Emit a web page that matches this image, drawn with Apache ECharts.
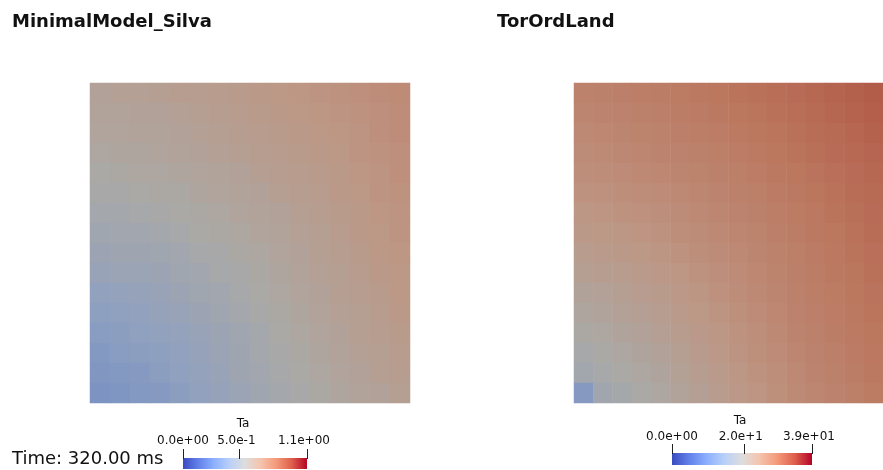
<!DOCTYPE html>
<html>
<head>
<meta charset="utf-8">
<script src="https://cdn.jsdelivr.net/npm/echarts@6/dist/echarts.min.js"></script>
<style>
  html, body { margin: 0; padding: 0; background: #ffffff; }
  #chart { width: 883px; height: 470px; }
</style>
</head>
<body>
<div id="chart"></div>
<script>
// Ta field sampled on a 16 x 16 grid, rows listed top to bottom, columns left to right.
const SILVA_TA = [
  [0.61, 0.62, 0.62, 0.63, 0.64, 0.64, 0.65, 0.66, 0.67, 0.68, 0.69, 0.70, 0.71, 0.72, 0.73, 0.74],
  [0.60, 0.60, 0.61, 0.61, 0.62, 0.63, 0.64, 0.65, 0.66, 0.67, 0.68, 0.69, 0.70, 0.71, 0.72, 0.73],
  [0.59, 0.59, 0.60, 0.60, 0.61, 0.62, 0.63, 0.64, 0.65, 0.66, 0.67, 0.68, 0.69, 0.70, 0.72, 0.73],
  [0.57, 0.58, 0.58, 0.59, 0.60, 0.61, 0.62, 0.63, 0.64, 0.65, 0.66, 0.67, 0.68, 0.70, 0.71, 0.72],
  [0.55, 0.56, 0.57, 0.57, 0.58, 0.59, 0.60, 0.61, 0.63, 0.64, 0.65, 0.66, 0.67, 0.69, 0.70, 0.72],
  [0.54, 0.54, 0.55, 0.56, 0.56, 0.58, 0.59, 0.60, 0.61, 0.63, 0.64, 0.65, 0.67, 0.68, 0.70, 0.71],
  [0.52, 0.52, 0.53, 0.54, 0.55, 0.56, 0.57, 0.59, 0.60, 0.61, 0.63, 0.64, 0.66, 0.67, 0.69, 0.70],
  [0.50, 0.51, 0.51, 0.52, 0.53, 0.55, 0.56, 0.57, 0.59, 0.60, 0.62, 0.63, 0.65, 0.67, 0.68, 0.70],
  [0.48, 0.49, 0.49, 0.50, 0.51, 0.53, 0.54, 0.56, 0.57, 0.59, 0.61, 0.63, 0.64, 0.66, 0.68, 0.69],
  [0.46, 0.47, 0.47, 0.48, 0.50, 0.51, 0.53, 0.54, 0.56, 0.58, 0.60, 0.62, 0.63, 0.65, 0.67, 0.68],
  [0.43, 0.44, 0.45, 0.46, 0.48, 0.50, 0.51, 0.53, 0.55, 0.57, 0.59, 0.61, 0.63, 0.64, 0.66, 0.68],
  [0.41, 0.42, 0.43, 0.45, 0.46, 0.48, 0.50, 0.52, 0.54, 0.56, 0.58, 0.60, 0.62, 0.63, 0.65, 0.67],
  [0.39, 0.40, 0.42, 0.43, 0.44, 0.46, 0.48, 0.50, 0.52, 0.55, 0.57, 0.59, 0.61, 0.63, 0.64, 0.66],
  [0.37, 0.39, 0.40, 0.41, 0.43, 0.45, 0.47, 0.49, 0.52, 0.54, 0.56, 0.58, 0.60, 0.62, 0.63, 0.65],
  [0.36, 0.37, 0.38, 0.40, 0.42, 0.44, 0.46, 0.49, 0.51, 0.53, 0.55, 0.57, 0.59, 0.61, 0.63, 0.64],
  [0.34, 0.35, 0.37, 0.38, 0.40, 0.43, 0.45, 0.47, 0.50, 0.52, 0.54, 0.56, 0.58, 0.60, 0.61, 0.63]
];

const TORORD_TA = [
  [27.6, 27.8, 28.0, 28.2, 28.4, 28.7, 29.0, 29.3, 29.6, 29.9, 30.2, 30.5, 30.9, 31.3, 31.7, 32.1],
  [27.1, 27.3, 27.5, 27.8, 28.0, 28.3, 28.6, 28.9, 29.2, 29.5, 29.9, 30.2, 30.6, 31.0, 31.4, 31.8],
  [26.6, 26.8, 27.1, 27.4, 27.6, 27.9, 28.2, 28.5, 28.8, 29.2, 29.5, 29.9, 30.3, 30.7, 31.1, 31.5],
  [26.1, 26.4, 26.7, 27.0, 27.2, 27.5, 27.8, 28.1, 28.5, 28.8, 29.2, 29.6, 30.0, 30.4, 30.8, 31.2],
  [25.6, 25.9, 26.2, 26.5, 26.8, 27.1, 27.4, 27.7, 28.1, 28.5, 28.9, 29.3, 29.7, 30.1, 30.5, 30.9],
  [25.0, 25.3, 25.6, 25.9, 26.2, 26.6, 26.9, 27.3, 27.7, 28.1, 28.6, 29.0, 29.4, 29.8, 30.3, 30.7],
  [24.4, 24.7, 25.0, 25.3, 25.7, 26.1, 26.5, 26.9, 27.3, 27.8, 28.2, 28.7, 29.1, 29.6, 30.0, 30.5],
  [23.8, 24.1, 24.4, 24.7, 25.1, 25.6, 26.0, 26.5, 26.9, 27.4, 27.9, 28.4, 28.9, 29.3, 29.8, 30.3],
  [23.1, 23.5, 23.8, 24.1, 24.6, 25.1, 25.6, 26.1, 26.6, 27.1, 27.6, 28.1, 28.6, 29.1, 29.6, 30.1],
  [22.3, 22.7, 23.1, 23.5, 24.0, 24.5, 25.1, 25.7, 26.2, 26.8, 27.4, 27.9, 28.4, 28.9, 29.4, 29.9],
  [21.4, 21.9, 22.4, 22.9, 23.4, 24.0, 24.6, 25.3, 25.9, 26.5, 27.1, 27.7, 28.2, 28.7, 29.2, 29.7],
  [20.6, 21.1, 21.7, 22.2, 22.8, 23.5, 24.2, 24.9, 25.5, 26.2, 26.8, 27.5, 28.0, 28.5, 29.0, 29.5],
  [19.8, 20.4, 21.0, 21.6, 22.2, 23.0, 23.7, 24.4, 25.1, 25.8, 26.5, 27.2, 27.8, 28.3, 28.8, 29.3],
  [18.9, 19.6, 20.2, 20.9, 21.6, 22.4, 23.2, 24.0, 24.8, 25.5, 26.2, 26.9, 27.5, 28.0, 28.6, 29.1],
  [18.1, 18.8, 19.5, 20.2, 20.9, 21.8, 22.7, 23.6, 24.4, 25.1, 25.8, 26.6, 27.2, 27.8, 28.3, 28.9],
  [13.5, 18.0, 18.7, 19.5, 20.3, 21.3, 22.2, 23.1, 24.0, 24.7, 25.5, 26.3, 26.9, 27.5, 28.1, 28.7]
];

const PANEL_TITLES = ['MinimalModel_Silva', 'TorOrdLand'];
const TIME_LABEL = 'Time: 320.00 ms';
const BAR_TITLE = 'Ta';

const SILVA_RANGE = [0, 1.1];
const TORORD_RANGE = [0, 39];
const SILVA_TICK_VALUES = [0, 0.5, 1.1];
const SILVA_TICK_LABELS = ['0.0e+00', '5.0e-1', '1.1e+00'];
const TORORD_TICK_VALUES = [0, 20, 39];
const TORORD_TICK_LABELS = ['0.0e+00', '2.0e+1', '3.9e+01'];

// Cool-to-warm diverging map for the colour bars, and the same map under the
// scene's lighting for the shaded surfaces.
const COOL_WARM = ['#3b4cc0', '#6282ea', '#8db0fe', '#b8d0f9', '#dddddd', '#f5c4ad', '#f49a7b', '#de604d', '#b40426'];
const COOL_WARM_LIT = ['#2d3b94', '#4b64b4', '#6d88c4', '#8ea0c0', '#aaa9a6', '#bd9785', '#bc775f', '#ab4a3b', '#8b031d'];

const FONT = '"DejaVu Sans", sans-serif';

function toCells(rows) {
  const out = [];
  rows.forEach((row, r) => row.forEach((v, c) => out.push([c, r, v])));
  return out;
}
function indexLabels(n) {
  return Array.from({ length: n }, (_, i) => String(i));
}

const panels = [
  { rows: SILVA_TA, range: SILVA_RANGE, left: 90, top: 83, size: 320 },
  { rows: TORORD_TA, range: TORORD_RANGE, left: 574, top: 83, size: 320 }
];

const bars = [
  { range: SILVA_RANGE, ticks: SILVA_TICK_VALUES, labels: SILVA_TICK_LABELS,
    left: 183, top: 458, length: 124, thick: 11, tickTop: 449, labelY: 441, titleY: 424 },
  { range: TORORD_RANGE, ticks: TORORD_TICK_VALUES, labels: TORORD_TICK_LABELS,
    left: 672, top: 453, length: 140, thick: 12, tickTop: 444, labelY: 437, titleY: 421 }
];

const chart = echarts.init(document.getElementById('chart'), null, { renderer: 'canvas' });

const grids = panels.map(p => ({ left: p.left, top: p.top, width: p.size, height: p.size, containLabel: false }));
const xAxes = panels.map((p, i) => ({
  type: 'category', gridIndex: i, data: indexLabels(p.rows[0].length), show: false
}));
const yAxes = panels.map((p, i) => ({
  type: 'category', gridIndex: i, data: indexLabels(p.rows.length), inverse: true, show: false
}));
const series = panels.map((p, i) => ({
  type: 'heatmap', xAxisIndex: i, yAxisIndex: i, data: toCells(p.rows),
  emphasis: { disabled: true }, silent: true, progressive: 0
}));
const visualMaps = panels.map((p, i) => ({
  type: 'continuous', show: false, seriesIndex: i, min: p.range[0], max: p.range[1],
  inRange: { color: COOL_WARM_LIT }
}));

// Colour bars with their tick marks and labels.
const graphics = [];
bars.forEach(b => {
  graphics.push({
    type: 'rect', silent: true,
    shape: { x: b.left, y: b.top, width: b.length, height: b.thick },
    style: {
      fill: new echarts.graphic.LinearGradient(0, 0, 1, 0,
        COOL_WARM.map((c, k) => ({ offset: k / (COOL_WARM.length - 1), color: c })))
    }
  });
  const span = b.range[1] - b.range[0];
  const xs = b.ticks.map(v => b.left + (v - b.range[0]) / span * b.length);
  xs.forEach((x, k) => {
    const px = Math.round(x) + 0.5;
    graphics.push({
      type: 'line', silent: true,
      shape: { x1: px, y1: b.tickTop, x2: px, y2: b.top + 1 },
      style: { stroke: '#222', lineWidth: 1 }
    });
    graphics.push({
      type: 'text', silent: true, x: k === 0 ? x : x - 3, y: b.labelY,
      style: { text: b.labels[k], font: '12px ' + FONT, fill: '#111', align: 'center', verticalAlign: 'middle' }
    });
  });
  graphics.push({
    type: 'text', silent: true, x: (xs[0] + xs[xs.length - 1]) / 2 - 2, y: b.titleY,
    style: { text: BAR_TITLE, font: '12px ' + FONT, fill: '#111', align: 'center', verticalAlign: 'middle' }
  });
});

chart.setOption({
  animation: false,
  backgroundColor: '#ffffff',
  title: [
    { text: PANEL_TITLES[0], left: 12, top: 13, padding: 0,
      textStyle: { fontFamily: FONT, fontSize: 18, fontWeight: 'bold', color: '#111' } },
    { text: PANEL_TITLES[1], left: 497, top: 13, padding: 0,
      textStyle: { fontFamily: FONT, fontSize: 18, fontWeight: 'bold', color: '#111' } },
    { text: TIME_LABEL, left: 12, top: 450, padding: 0,
      textStyle: { fontFamily: FONT, fontSize: 18, fontWeight: 'normal', color: '#111' } }
  ],
  grid: grids,
  xAxis: xAxes,
  yAxis: yAxes,
  visualMap: visualMaps,
  series: series,
  graphic: graphics
});
</script>
</body>
</html>
